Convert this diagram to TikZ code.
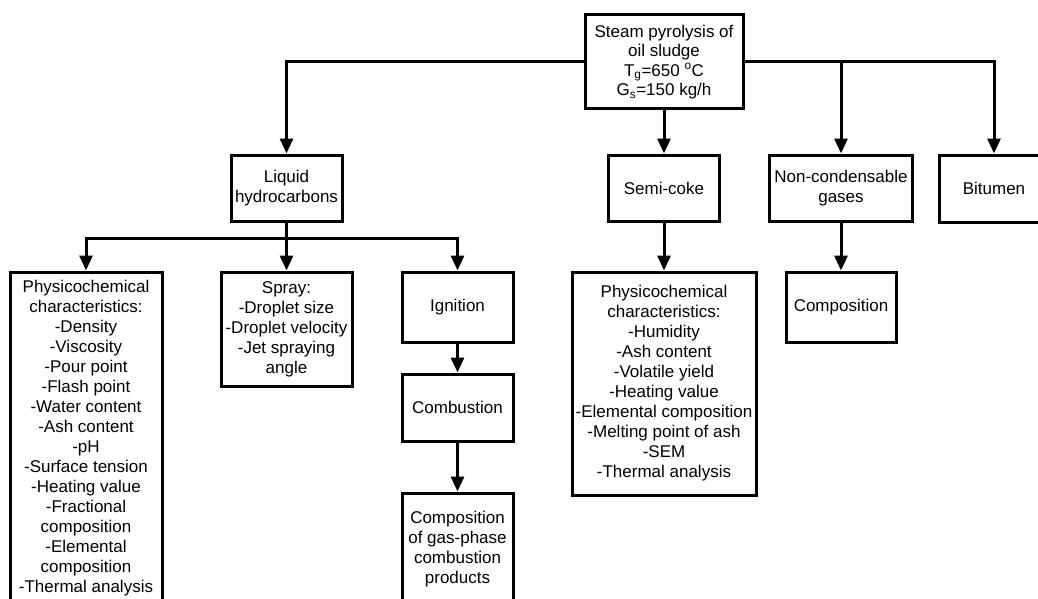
\documentclass[tikz,border=0pt]{standalone}
\usepackage{fontspec}
\setmainfont{Liberation Sans}
\usetikzlibrary{arrows.meta}
\begin{document}
\begin{tikzpicture}[x=1pt,y=-1pt,
  box/.style={draw=black, line width=3pt, rectangle, align=center, inner sep=0pt,
    font=\fontsize{17}{20}\selectfont, line join=miter},
  conn/.style={draw=black, line width=3pt, line join=miter},
  arr/.style={conn, -{Triangle[length=15pt,width=13pt]}}]
\useasboundingbox (0,0) rectangle (1038,599);
\clip (0,0) rectangle (1038,599);
\node[box, minimum width=158pt, minimum height=94pt, font=\fontsize{17}{19.5}\selectfont] (top) at (664,62)
  {Steam pyrolysis of\\oil sludge\\T\textsubscript{g}=650 \textsuperscript{o}C\\G\textsubscript{s}=150 kg/h};
\node[box, minimum width=111pt, minimum height=66pt] (liquid) at (286.5,188) {Liquid\\hydrocarbons};
\node[box, minimum width=111pt, minimum height=66pt] (semicoke) at (664,188) {Semi-coke};
\node[box, minimum width=143pt, minimum height=66pt] (noncond) at (841,188) {Non-condensable\\gases};
\node[box, minimum width=110pt, minimum height=67pt] (bitumen) at (994,188.5) {Bitumen};
\node[box, minimum width=152pt, minimum height=332pt] (phys1) at (86,438)
  {Physicochemical\\characteristics:\\-Density\\-Viscosity\\-Pour point\\-Flash point\\-Water content\\-Ash content\\-pH\\-Surface tension\\-Heating value\\-Fractional\\composition\\-Elemental\\composition\\-Thermal analysis};
\node[box, minimum width=131pt, minimum height=114pt] (spray) at (286.5,329)
  {Spray:\\-Droplet size\\-Droplet velocity\\-Jet spraying\\angle};
\node[box, minimum width=111pt, minimum height=70pt] (ignition) at (457.5,307) {Ignition};
\node[box, minimum width=111pt, minimum height=67pt] (combustion) at (457.5,407.5) {Combustion};
\node[box, minimum width=111pt, minimum height=112pt] (gasphase) at (457.5,549)
  {Composition\\of gas-phase\\combustion\\products};
\node[box, minimum width=184pt, minimum height=223pt] (phys2) at (664,383.5)
  {Physicochemical\\characteristics:\\-Humidity\\-Ash content\\-Volatile yield\\-Heating value\\-Elemental composition\\-Melting point of ash\\-SEM\\-Thermal analysis};
\node[box, minimum width=110pt, minimum height=70pt] (comp) at (841,307) {Composition};
\coordinate (j1) at (286.5,238);
\draw[arr] (top.west) -| (liquid.north);
\draw[arr] (top.south) -- (semicoke.north);
\draw[arr] (top.east) -| (noncond.north);
\draw[arr] (top.east) -| (bitumen.north);
\draw[conn] (liquid.south) -- (j1);
\draw[arr] (j1) -| (phys1.north);
\draw[arr] (j1) -- (spray.north);
\draw[arr] (j1) -| (ignition.north);
\draw[arr] (ignition.south) -- (combustion.north);
\draw[arr] (combustion.south) -- (gasphase.north);
\draw[arr] (semicoke.south) -- (phys2.north);
\draw[arr] (noncond.south) -- (comp.north);
\end{tikzpicture}
\end{document}
